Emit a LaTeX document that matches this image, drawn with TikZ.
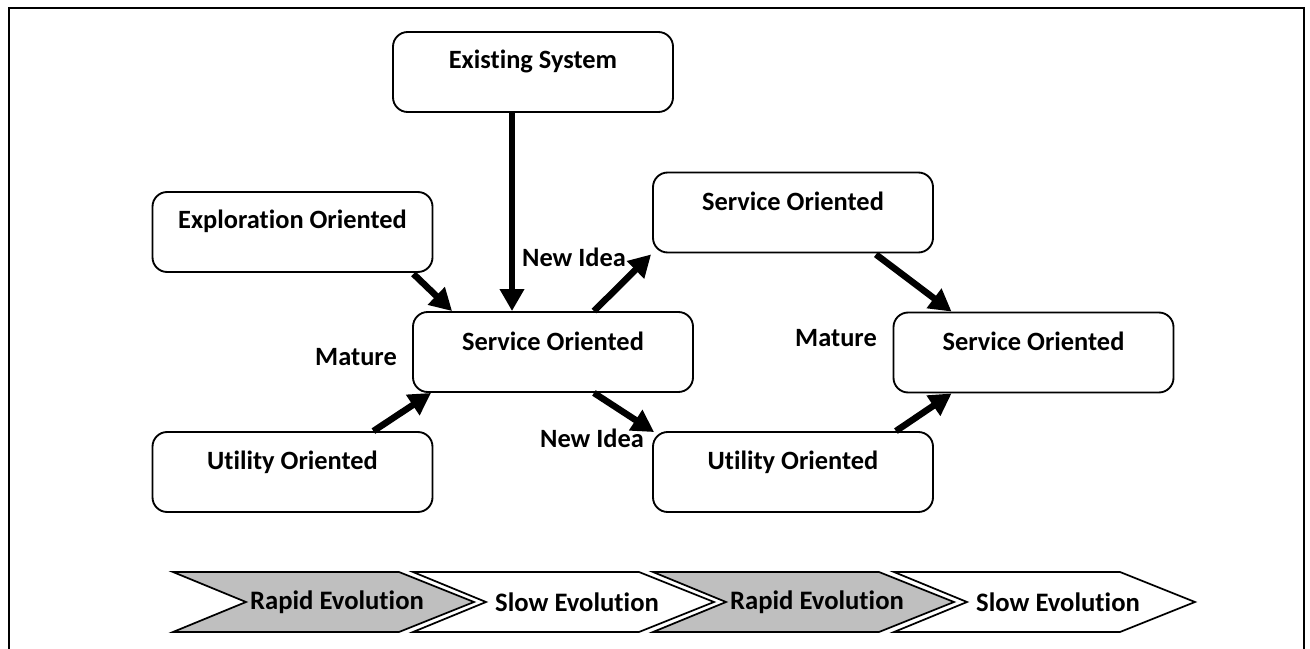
\documentclass[tikz,border=0pt]{standalone}
\usepackage{fontspec}
\setmainfont{Carlito}[Ligatures={NoCommon,NoContextual},Contextuals=NoAlternate]
\usetikzlibrary{arrows.meta,calc}
\begin{document}
\begin{tikzpicture}[x=0.75pt,y=-0.75pt,
  stage/.style={draw=black, line width=1.4pt, rounded corners=11pt,
    minimum width=210pt, minimum height=60pt, inner sep=0pt, fill=white},
  boxtext/.style={font=\fontsize{19.8pt}{23pt}\selectfont\bfseries, inner sep=0pt},
  flowlabel/.style={font=\fontsize{19.8pt}{23pt}\selectfont\bfseries, inner sep=0pt},
  flow/.style={line width=4.9pt, -{Triangle[length=16.5pt,width=17.5pt]}},
  rapid/.style={draw=black, line width=1.3pt, fill=black!25, line join=miter},
  slow/.style={draw=black, line width=1.3pt, fill=white, line join=miter},
  phase/.style={font=\fontsize{20pt}{23pt}\selectfont\bfseries, inner sep=0pt}]
\useasboundingbox (0,0) rectangle (1310,649);

% outer frame, open at the bottom
\draw[line width=1.5pt] (9,660) -- (9,8) -- (1304,8) -- (1304,660);

% stage boxes
\node[stage] (es)   at (533,72)    {};
\node[stage] (ex)   at (292.5,232) {};
\node[stage] (so)   at (553,352)   {};
\node[stage] (ul)   at (292.5,472) {};
\node[stage] (sou)  at (793,212.5) {};
\node[stage] (sor)  at (1033.5,352.5) {};
\node[stage] (ur)   at (793,472)   {};

\node[boxtext] (es-t)  at ($(es.north)+(0,30)$)  {Existing System};
\node[boxtext] (ex-t)  at ($(ex.north)+(0,30)$)  {Exploration Oriented};
\node[boxtext] (so-t)  at ($(so.north)+(0,30)$)  {Service Oriented};
\node[boxtext] (ul-t)  at ($(ul.north)+(0,31)$)  {Utility Oriented};
\node[boxtext] (sou-t) at ($(sou.north)+(0,30)$) {Service Oriented};
\node[boxtext] (sor-t) at ($(sor.north)+(0,30)$) {Service Oriented};
\node[boxtext] (ur-t)  at ($(ur.north)+(0,31)$)  {Utility Oriented};

% transitions
\draw[flow] ($(es.south)+(-21,0)$) -- ($(so.north)+(-41,0)$);
\draw[flow] ($(ex.south east)+(-20,1)$) -- ($(so.north west)+(40,0)$);
\draw[flow] ($(ul.north east)+(-60,0)$) -- ($(so.south west)+(19,0)$);
\draw[flow] ($(so.north east)+(-100,0)$) -- ($(sou.south west)+(-1,1)$);
\draw[flow] ($(so.south east)+(-100,0)$) -- ($(ur.north west)+(2,1)$);
\draw[flow] ($(sou.south east)+(-58,1)$) -- ($(sor.north west)+(59,0)$);
\draw[flow] ($(ur.north east)+(-38,0)$) -- ($(sor.south west)+(59,0)$);

% transition labels
\node[flowlabel] (idea1)   at (574,257) {New Idea};
\node[flowlabel] (mature1) at (356,357) {Mature};
\node[flowlabel] (idea2)   at (592,438) {New Idea};
\node[flowlabel] (mature2) at (836,338) {Mature};

% evolution phases
\foreach \L/\kind/\txt [count=\i] in {173/rapid/Rapid Evolution, 413/slow/Slow Evolution,
                                      653/rapid/Rapid Evolution, 894/slow/Slow Evolution}{
  \draw[\kind] (\L,572) -- (\L+226,572) -- (\L+301,602) -- (\L+226,632)
               -- (\L,632) -- (\L+73,602) -- cycle;
  \node[phase] (phase-\i) at (\L+164,602) {\txt};
}
\end{tikzpicture}
\end{document}
